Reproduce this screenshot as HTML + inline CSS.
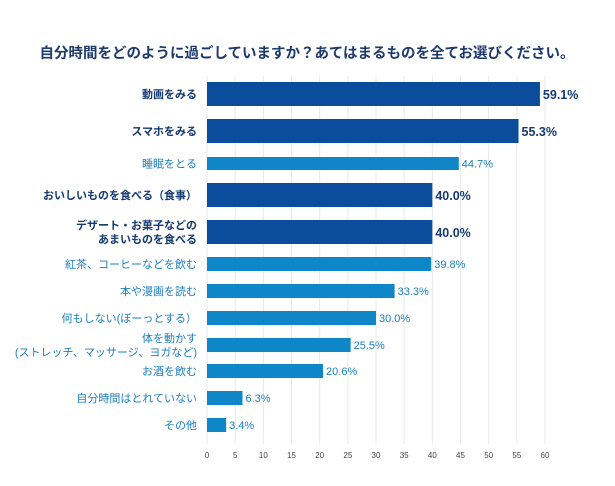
<!DOCTYPE html>
<html><head><meta charset="utf-8"><style>
body{margin:0;background:#fff;}
svg text{font-family:"Liberation Sans","Noto Sans CJK JP",sans-serif;}
</style></head><body>
<svg id="c" width="615" height="481">
<text x="307" y="58" text-anchor="middle" font-size="14.5" font-weight="bold" fill="#1d3a6b">自分時間をどのように過ごしていますか？あてはまるものを全てお選びください。</text>
<g id="grid"></g><g id="bars"></g><g id="ticks"></g>
</svg>
<script>
const categories=[["動画をみる"],["スマホをみる"],["睡眠をとる"],["おいしいものを食べる（食事）"],["デザート・お菓子などの","あまいものを食べる"],["紅茶、コーヒーなどを飲む"],["本や漫画を読む"],["何もしない(ぼーっとする）"],["体を動かす","(ストレッチ、マッサージ、ヨガなど)"],["お酒を飲む"],["自分時間はとれていない"],["その他"]];
const values=[59.1,55.3,44.7,40.0,40.0,39.8,33.3,30.0,25.5,20.6,6.3,3.4];
const highlight=[1,1,0,1,1,0,0,0,0,0,0,0];
const tickValues=[0,5,10,15,20,25,30,35,40,45,50,55,60];
const ns="http://www.w3.org/2000/svg";
const x0=207,x1=545,xMax=60;
const xs=v=>x0+(x1-x0)*v/xMax;
const rows=[[82,106],[119,143],[157,170],[183,207],[220,244],[257,271],[284,298],[311,325],[338,352],[364,378],[391,405],[418,432]];
function mk(t,a,p){const e=document.createElementNS(ns,t);for(const k in a)e.setAttribute(k,a[k]);p.appendChild(e);return e;}
const g=document.getElementById('grid'),b=document.getElementById('bars'),tk=document.getElementById('ticks');
tickValues.forEach(v=>{
 const l=mk('line',{x1:xs(v),x2:xs(v),y1:76,y2:444,stroke:'#e6e8ec','stroke-width':1},g);
 
 
 const t=mk('text',{x:xs(v),y:458,'text-anchor':'middle','font-size':8,fill:'#444'},tk);
 t.textContent=v;
 
 
});
values.forEach((v,i)=>{
 const dark=highlight[i]===1;
 const col=dark?'#0b4d9c':'#0e86c8';
 const tcol=dark?'#153a73':'#1a7fbf';
 const [ya,yb]=rows[i];const yc=(ya+yb)/2;
 const r=mk('rect',{x:x0,y:ya,width:xs(v)-x0,height:yb-ya,fill:col},b);
 
 
 const vt=mk('text',{x:xs(v)+3,y:yc+(dark?5:4),'font-size':dark?12.5:11,'font-weight':dark?'bold':'normal',fill:tcol},b);
 vt.textContent=v.toFixed(1)+'%';
 
 
 const lines=categories[i];
 lines.forEach((s,j)=>{
  const y=yc+4+(j-(lines.length-1)/2)*14;
  const ct=mk('text',{x:197,y:y,'text-anchor':'end','font-size':11,'font-weight':dark?'bold':'normal',fill:tcol},b);
  ct.textContent=s;
  
  
 });
});
</script>
</body></html>
